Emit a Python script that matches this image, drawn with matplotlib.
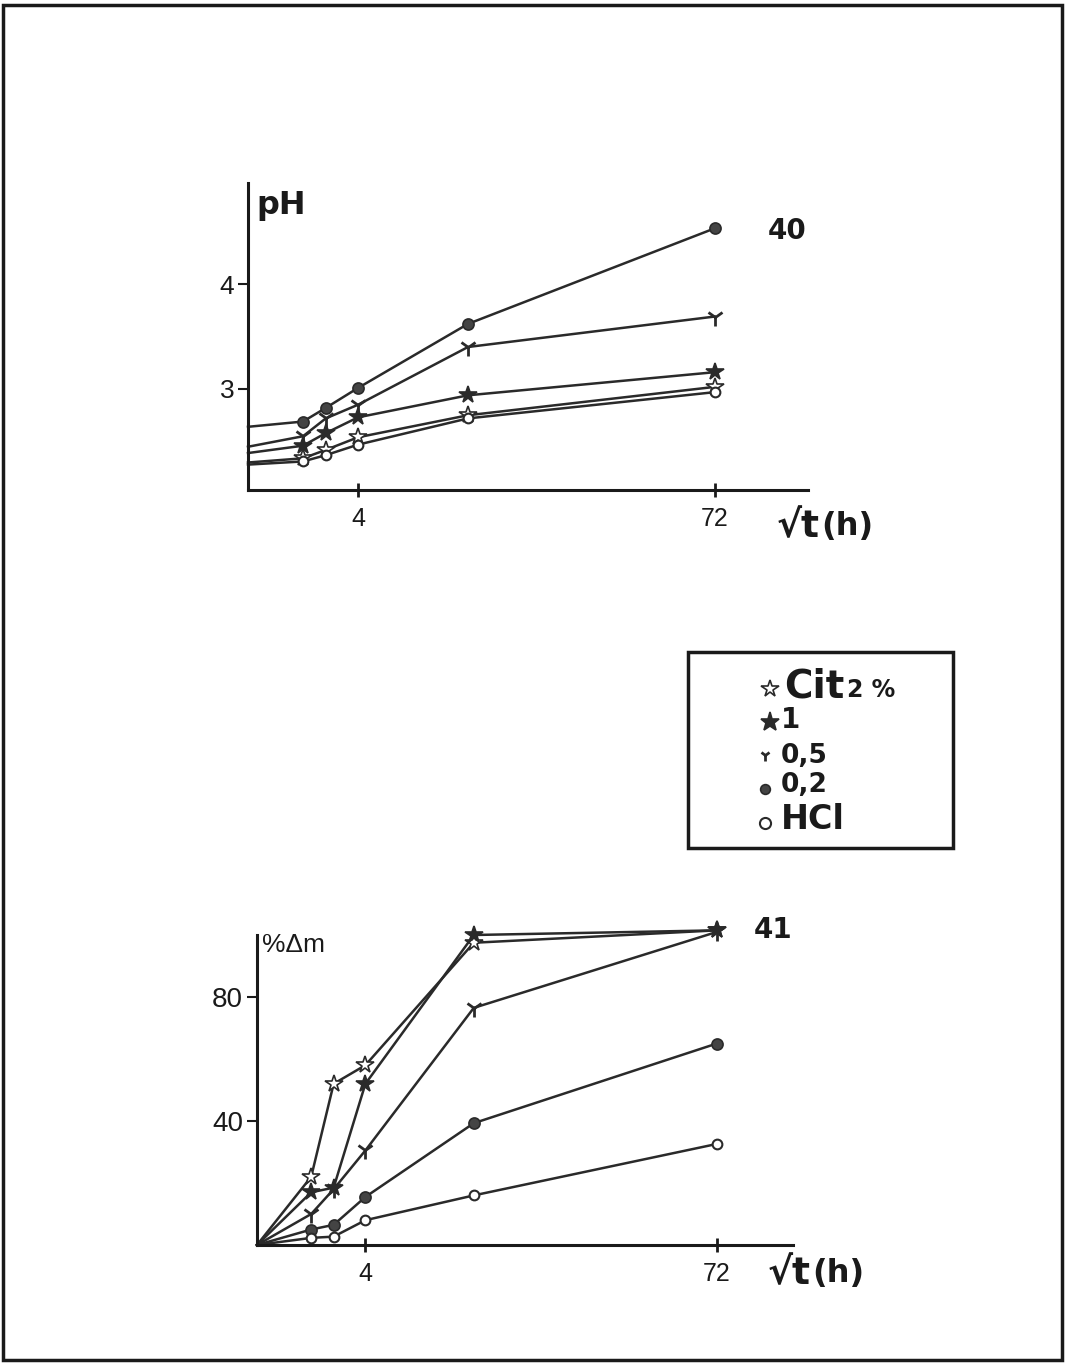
import numpy as np
import matplotlib
matplotlib.use("Agg")
import matplotlib.pyplot as plt
from matplotlib.patches import Rectangle

plt.rcParams['font.family'] = ['Liberation Sans', 'DejaVu Sans']

# ---- data ----
t_hours = [0, 1, 2, 4, 16, 72]
tick_hours = [4, 72]
tick_labels = ["4", "72"]

series = ["Cit 2%", "1", "0,5", "0,2", "HCl"]

ph_cit2 = [2.30, 2.34, 2.42, 2.54, 2.75, 3.02]
ph_cit1 = [2.39, 2.46, 2.58, 2.73, 2.94, 3.16]
ph_cit05 = [2.45, 2.55, 2.72, 2.85, 3.40, 3.69]
ph_cit02 = [2.64, 2.69, 2.82, 3.01, 3.62, 4.53]
ph_hcl = [2.28, 2.31, 2.37, 2.47, 2.72, 2.97]

dm_cit2 = [0, 22, 52, 58, 97.5, 101.5]
dm_cit1 = [0, 17, 18.5, 52, 100, 101.5]
dm_cit05 = [0, 10, 18, 30.5, 76.5, 101]
dm_cit02 = [0, 5, 6.5, 15.5, 39.3, 65]
dm_hcl = [0, 2.3, 2.7, 8, 16, 32.6]

ph_yticks = [3, 4]
dm_yticks = [40, 80]

# ---- styles ----
LC = '#2a2a2a'
styles = {
    "Cit 2%": dict(marker='*', ms=13, mfc='white', mec=LC, mew=1.2),
    "1": dict(marker='*', ms=13, mfc=LC, mec=LC, mew=1.2),
    "0,5": dict(marker='1', ms=13, mfc=LC, mec=LC, mew=2.0),
    "0,2": dict(marker='o', ms=8, mfc='#444444', mec=LC, mew=1.2),
    "HCl": dict(marker='o', ms=7, mfc='white', mec=LC, mew=1.5),
}

W, H = 1066, 1363
fig = plt.figure(figsize=(W / 100, H / 100), dpi=100)

def px_axes(x0, y0, x1, y1):
    return fig.add_axes([x0 / W, 1 - y1 / H, (x1 - x0) / W, (y1 - y0) / H])

xs = np.sqrt(t_hours)
xt = np.sqrt(tick_hours)

def style_axes(ax, ylabsize):
    for s in ['top', 'right']:
        ax.spines[s].set_visible(False)
    for s in ['left', 'bottom']:
        ax.spines[s].set_linewidth(2.2)
        ax.spines[s].set_color('#1a1a1a')
    ax.tick_params(axis='y', direction='out', length=7, width=1.5,
                   labelsize=ylabsize, pad=3, colors='#1a1a1a')
    ax.tick_params(axis='x', direction='inout', length=10, width=2,
                   labelsize=18, pad=7, colors='#1a1a1a')
    ax.set_xticks(xt)
    ax.set_xticklabels(tick_labels)
    ax.set_facecolor('none')

# top: pH
ax1 = px_axes(248, 183, 808, 490)
ph_data = [ph_cit2, ph_cit1, ph_cit05, ph_cit02, ph_hcl]
for name, ys in zip(series, ph_data):
    ax1.plot(xs, ys, color=LC, lw=1.8, clip_on=False,
             markevery=list(range(1, len(xs))), **styles[name])
ax1.set_xlim(0, 560 / 55.0)
ax1.set_ylim(3 - 101 / 105, 4 + 101 / 105)
ax1.set_yticks(ph_yticks)
ax1.set_yticklabels([str(v) for v in ph_yticks])
style_axes(ax1, 19)

# bottom: % delta m
ax2 = px_axes(257, 935, 793, 1245)
dm_data = [dm_cit2, dm_cit1, dm_cit05, dm_cit02, dm_hcl]
for name, ys in zip(series, dm_data):
    ax2.plot(xs, ys, color=LC, lw=1.8, clip_on=False,
             markevery=list(range(1, len(xs))), **styles[name])
ax2.set_xlim(0, 536 / 54.2)
ax2.set_ylim(0, 100)
ax2.set_yticks(dm_yticks)
ax2.set_yticklabels([str(v) for v in dm_yticks])
style_axes(ax2, 20)

# overlay in pixel coordinates for annotations
ov = fig.add_axes([0, 0, 1, 1], zorder=-1)
ov.set_xlim(0, W)
ov.set_ylim(H, 0)
ov.axis('off')

# page frame
ov.add_patch(Rectangle((3, 5), 1059, 1355, fill=False, lw=2.5, ec='#1a1a1a'))

TC = '#1a1a1a'
BF = ['DejaVu Sans']

def sqrt_label(x, y):
    t1 = ov.text(x, y, "√t", fontsize=27, fontweight='bold', family=BF,
                 ha='left', va='baseline', color=TC)
    ov.annotate("(h)", xy=(1, 0), xycoords=t1, xytext=(1, 2),
                textcoords='offset points', fontsize=23, fontweight='bold',
                family=BF, ha='left', va='bottom', color=TC)

ov.text(256, 214, "pH", fontsize=23, fontweight='bold', family=BF,
        ha='left', va='baseline', color=TC)
ov.text(787, 239, "40", fontsize=20, fontweight='bold', family=BF,
        ha='center', va='baseline', color=TC)
sqrt_label(777, 537)

ov.text(262, 945, "%Δm", fontsize=19, ha='left', va='center', color=TC)
ov.text(773, 938, "41", fontsize=20, fontweight='bold', family=BF,
        ha='center', va='baseline', color=TC)
sqrt_label(768, 1284)

# legend box
ov.add_patch(Rectangle((688, 652), 265, 196, fill=False, lw=2.5, ec='#1a1a1a'))
leg_pos = [(770, 689), (770, 722), (765, 755), (765, 789), (765, 823)]
leg_ms = {"Cit 2%": 13, "1": 14, "0,5": 8, "0,2": 7, "HCl": 8}
for name, (xx, yy) in zip(series, leg_pos):
    st = dict(styles[name])
    st['ms'] = leg_ms[name]
    ov.plot([xx], [yy], ls='none', **st)
ov.text(784, 697, "Cit", fontsize=28, fontweight='bold', family=BF, ha='left', va='baseline', color=TC)
ov.text(847, 697, "2 %", fontsize=17, fontweight='bold', family=BF, ha='left', va='baseline', color=TC)
ov.text(781, 728, "1", fontsize=20, fontweight='bold', family=BF, ha='left', va='baseline', color=TC)
ov.text(781, 763, "0,5", fontsize=19, fontweight='bold', family=BF, ha='left', va='baseline', color=TC)
ov.text(781, 792, "0,2", fontsize=19, fontweight='bold', family=BF, ha='left', va='baseline', color=TC)
ov.text(781, 829, "HCl", fontsize=24, fontweight='bold', family=BF, ha='left', va='baseline', color=TC)

fig.savefig("out.png", dpi=100)
